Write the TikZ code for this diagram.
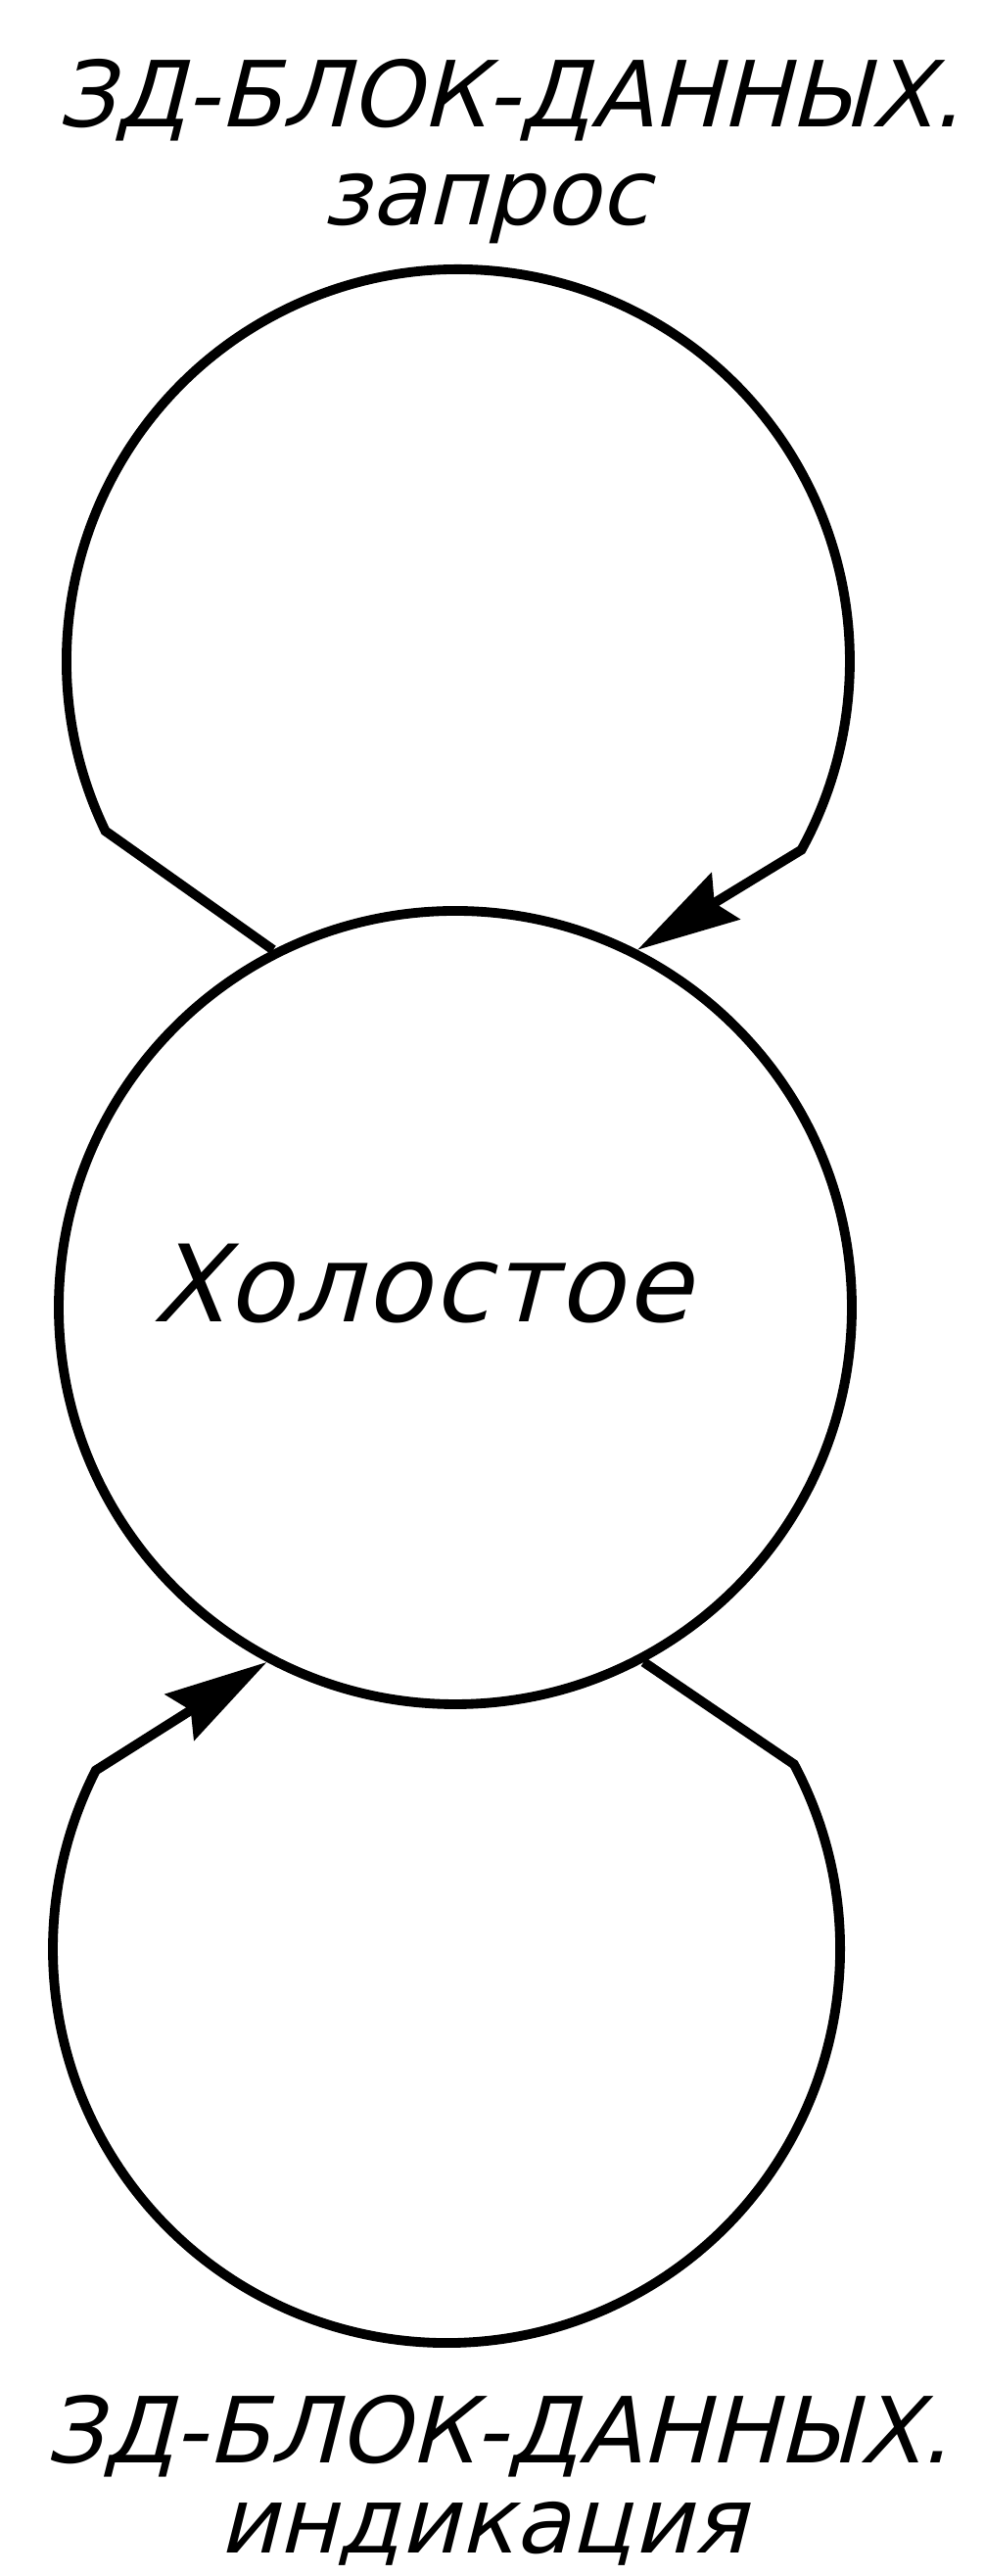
\documentclass[tikz,border=0pt]{standalone}
\usepackage{fontspec}
\setmainfont{DejaVu Sans}
\newfontfamily\gostfont[FakeSlant=0.25]{DejaVu Sans}
\newfontfamily\gostwide[FakeSlant=0.25, LetterSpace=2]{DejaVu Sans}
\usetikzlibrary{arrows.meta}
\tikzset{
  statebox/.style={circle, draw, line width=2.8pt, minimum size=8.1cm, inner sep=0pt},
  statetext/.style={font=\gostwide\fontsize{31}{34}\selectfont, inner sep=0pt,
                    xshift=-3.5mm, yshift=2.4mm},
  lbl/.style={font=\gostfont\fontsize{26.5}{30}\selectfont, inner sep=0pt, anchor=base},
  loopline/.style={line width=2.8pt, -{Stealth[length=1.05cm, width=0.55cm, inset=0.13cm]}},
}

\begin{document}
\begin{tikzpicture}

  \useasboundingbox (0,0) rectangle (10.05,26.3);

  %% STATE
  \node[statebox, label={[statetext]center:Холостое}] (idle) at (4.65,12.95) {};

  %% LOOP CENTRES
  \coordinate (topc) at (4.68,19.55);
  \coordinate (botc) at (4.56,6.40);
  \coordinate (tl) at ([shift={(205.7:4)}]topc);
  \coordinate (br) at ([shift={(28:4.02)}]botc);

  %% LOOPS
  \draw[loopline] (idle.117) -- (tl)
       arc[start angle=205.7, end angle=-28.8, radius=4cm] -- (idle.63);
  \draw[loopline] (idle.298) -- (br)
       arc[start angle=28, end angle=-207, radius=4.02cm] -- (idle.242);

  %% LABELS
  \node[lbl] (reqA) at (5.2,25.0) {ЗД-БЛОК-ДАННЫХ.};
  \node[lbl] (reqB) at (4.96,24.0) {запрос};
  \node[lbl] (indA) at (5.08,1.15) {ЗД-БЛОК-ДАННЫХ.};
  \node[lbl] (indB) at (4.93,0.24) {индикация};

\end{tikzpicture}
\end{document}
